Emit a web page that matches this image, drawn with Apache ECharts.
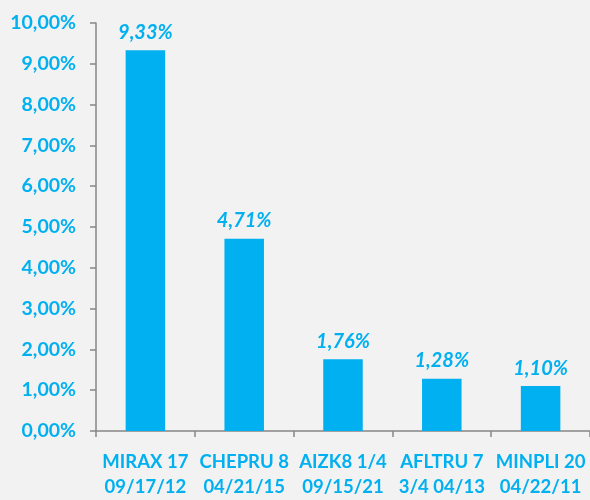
<!DOCTYPE html>
<html><head><meta charset="utf-8">
<script src="https://cdn.jsdelivr.net/npm/echarts@6/dist/echarts.min.js"></script>
<style>html,body{margin:0;padding:0;background:#F2F2F2;width:590px;height:500px;overflow:hidden;}#c{width:590px;height:500px;}</style>
</head><body><div id="c"></div>
<script>
var categories = ['MIRAX 17\n09/17/12','CHEPRU 8\n04/21/15','AIZK8 1/4\n09/15/21','AFLTRU 7\n3/4 04/13','MINPLI 20\n04/22/11'];
var values = [9.33, 4.71, 1.76, 1.28, 1.10];
var yTicks = {min:0, max:10, interval:1};
var fam = 'Lato, "Open Sans", sans-serif';
var blue = '#00B0F0';
var chart = echarts.init(document.getElementById('c'));
chart.setOption({
  backgroundColor:'#F2F2F2',
  animation:false,
  grid:{left:96,right:-1,top:23,bottom:64,containLabel:false},
  xAxis:{type:'category',data:categories,
    axisLine:{lineStyle:{color:'#868686',width:1.5}},
    axisTick:{show:true,length:6,lineStyle:{color:'#868686',width:1.5}},
    axisLabel:{color:blue,fontFamily:fam,fontWeight:'bold',fontSize:18.5,lineHeight:25,margin:19,interval:0}},
  yAxis:{type:'value',min:yTicks.min,max:yTicks.max,interval:yTicks.interval,
    axisLine:{show:true,lineStyle:{color:'#868686',width:1.5}},
    axisTick:{show:true,length:6,lineStyle:{color:'#868686',width:1.5}},
    splitLine:{show:false},
    axisLabel:{color:blue,fontFamily:fam,fontWeight:'bold',fontSize:19.5,margin:20,
      formatter:function(v){return v.toFixed(2).replace('.',',')+'%';}}},
  series:[{type:'bar',data:values,barWidth:'40%',itemStyle:{color:blue},
    label:{show:true,position:'top',distance:8,color:blue,fontFamily:fam,fontWeight:'bold',fontStyle:'italic',fontSize:20,
      formatter:function(p){return p.value.toFixed(2).replace('.',',')+'%';}}}]
});
</script></body></html>
